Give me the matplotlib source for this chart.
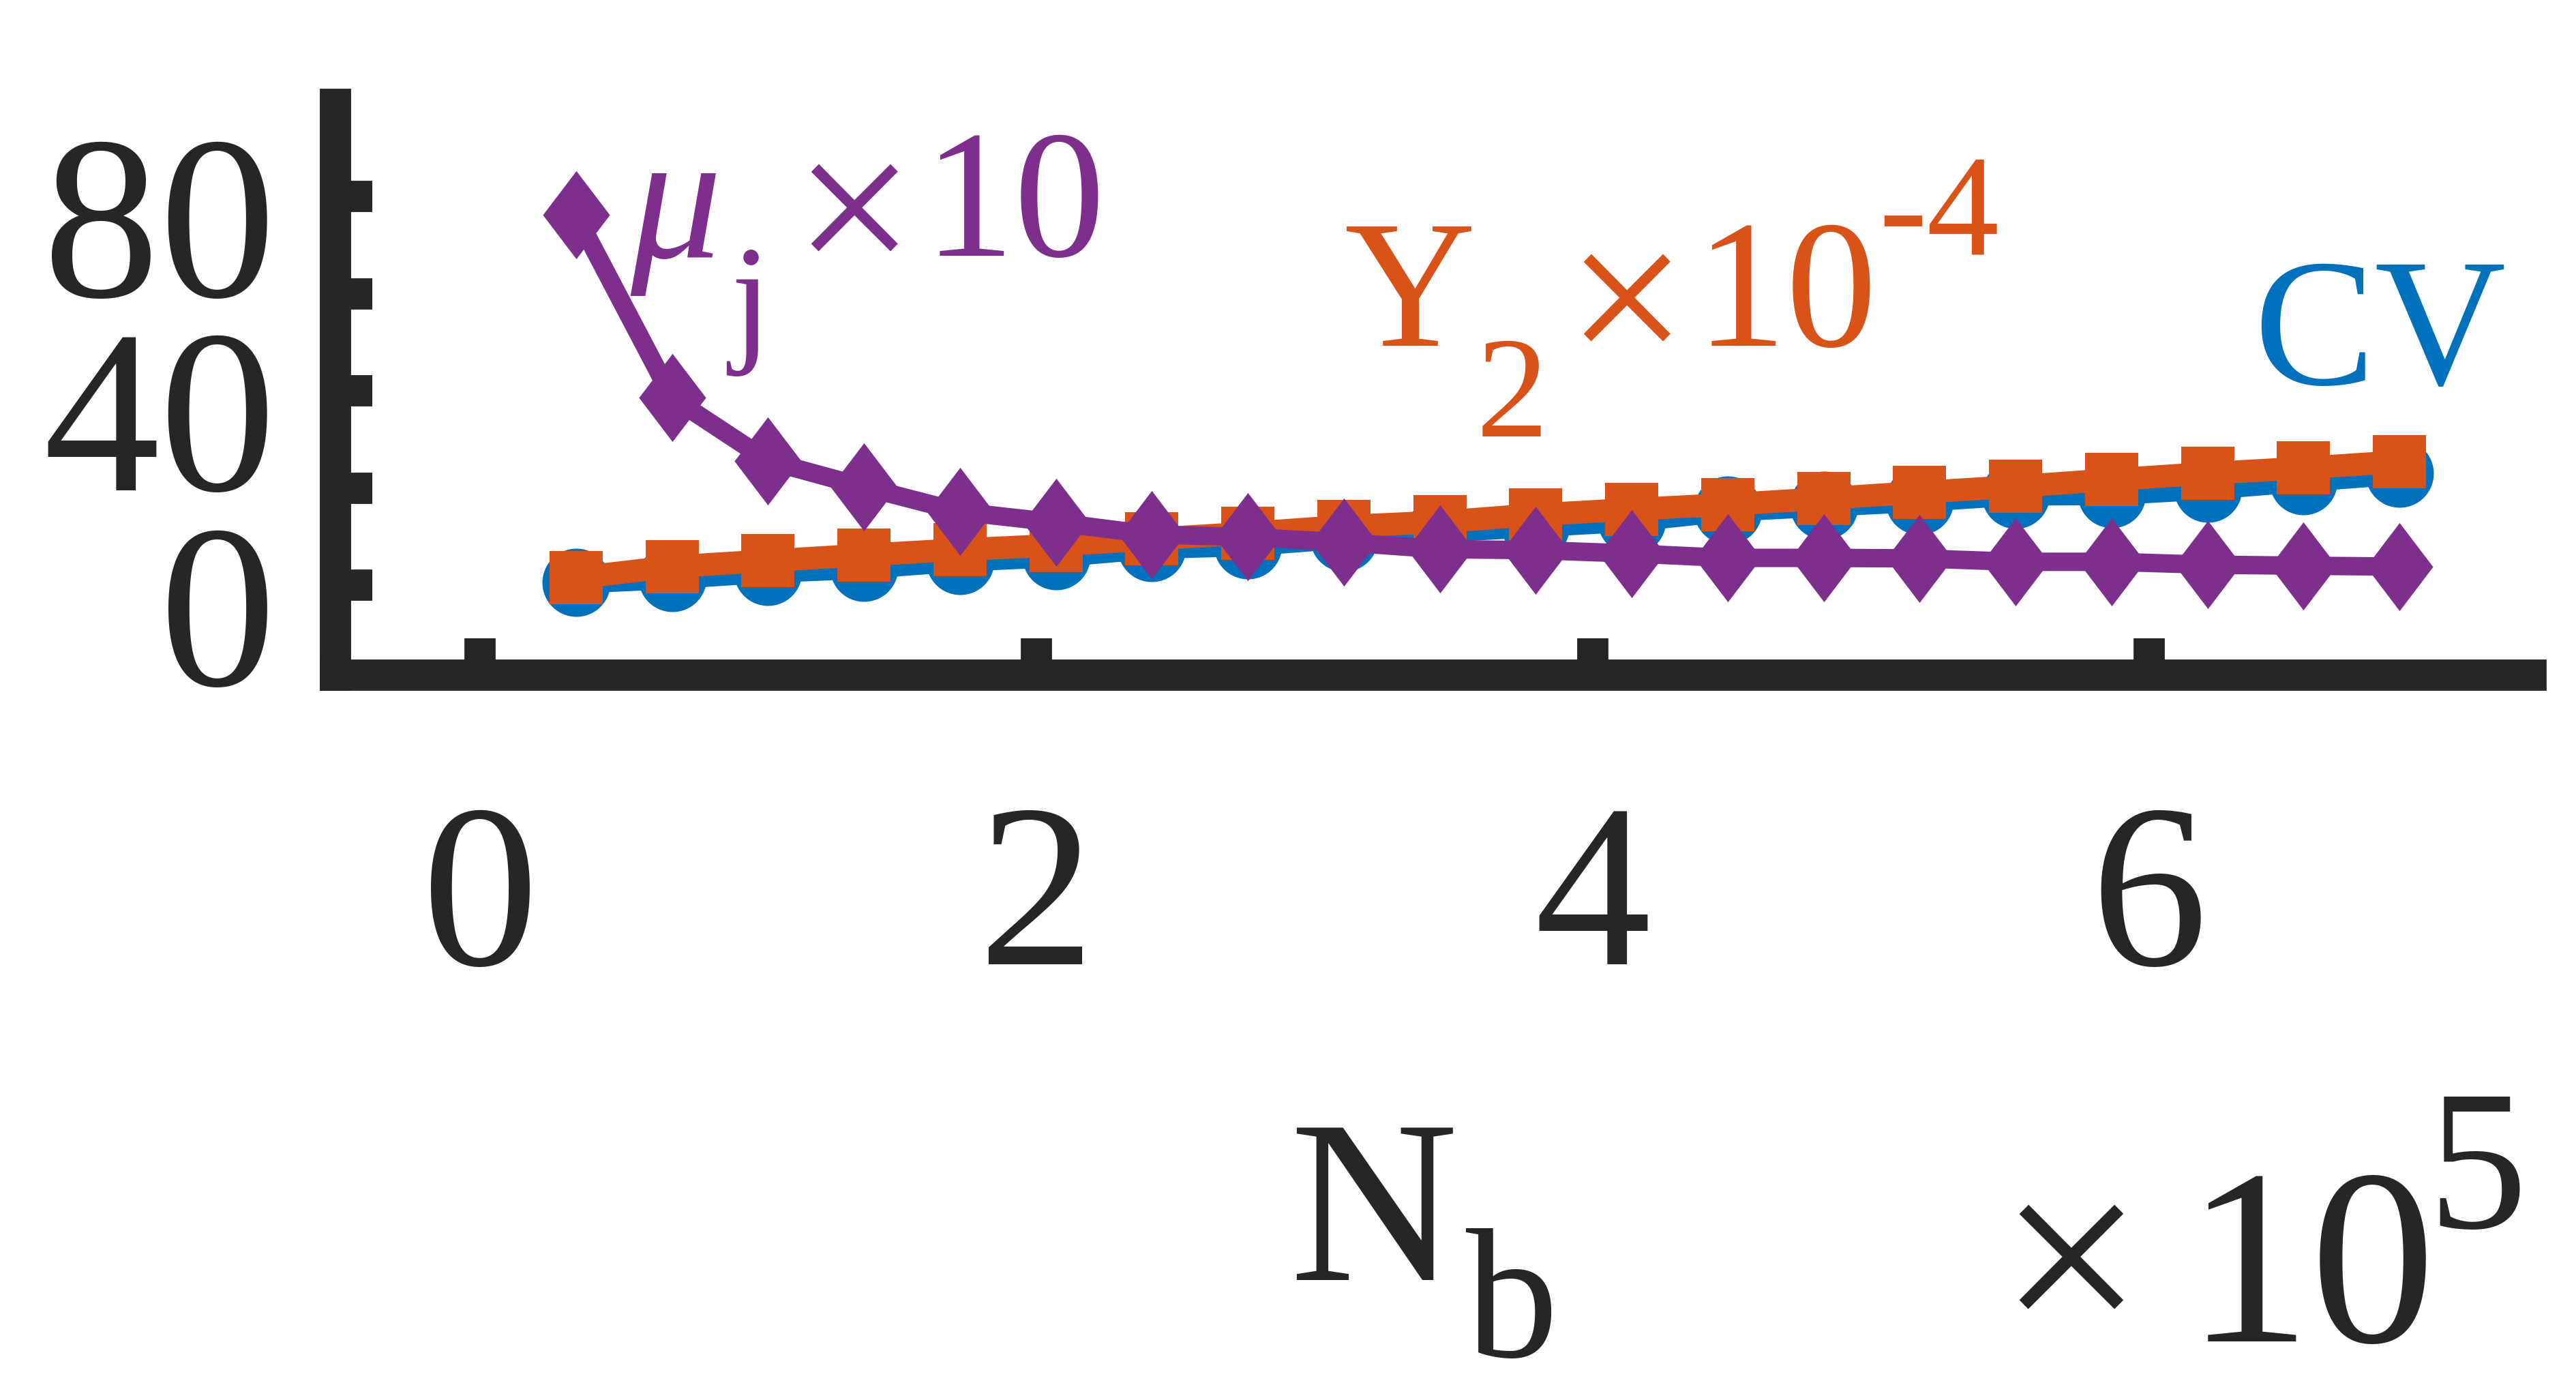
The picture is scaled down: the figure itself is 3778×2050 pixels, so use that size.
import numpy as np
import matplotlib
matplotlib.use("Agg")
import matplotlib.pyplot as plt
from matplotlib.path import Path
from matplotlib.transforms import ScaledTranslation

plt.rcParams['font.family'] = ['Liberation Serif', 'DejaVu Serif']

# N_b sample sizes and the three curves
nb = [34500, 69000, 103500, 138000, 172500, 207000, 241500, 276000, 310500, 345000,
      379500, 414000, 448500, 483000, 517500, 552000, 586500, 621000, 655500, 690000]
cv = [0.6, 1.5, 2.8, 3.6, 5.1, 6.0, 7.7, 8.3, 9.8, 11.1,
      12.2, 13.3, 15.4, 16.4, 17.4, 18.7, 18.8, 19.9, 21.5, 23.0]
y2 = [1.5, 3.8, 5.0, 6.2, 7.3, 8.2, 9.5, 10.7, 12.1, 13.0,
      14.5, 15.6, 16.6, 17.8, 19.1, 20.3, 21.7, 23.0, 24.1, 25.4]
mu = [76.2, 38.6, 25.6, 20.2, 15.1, 12.9, 10.4, 9.9, 8.8, 7.4,
      7.2, 6.5, 5.6, 5.6, 5.5, 4.8, 4.8, 4.2, 4.0, 3.8]

yticks = [0, 20, 40, 60, 80]
ytick_labels = ['0', '', '40', '', '80']
xticks = [0, 2, 4, 6]
xtick_labels = ['0', '2', '4', '6']

BLUE = '#0072BD'
ORANGE = '#D95319'
PURPLE = '#7E2F8E'
DARK = '#262626'

W, H, DPI = 3779, 2050, 300
fig = plt.figure(figsize=(W / DPI, H / DPI), dpi=DPI)

# axes box in pixels (left, right, top, bottom)
L, R, T, B = 492, 3712, 153, 990
ax = fig.add_axes([L / W, 1 - B / H, (R - L) / W, (B - T) / H])

x = np.array(nb) / 1e5
diamond = Path([(0, 1), (0.76, 0), (0, -1), (-0.76, 0), (0, 1)],
               [Path.MOVETO, Path.LINETO, Path.LINETO, Path.LINETO, Path.CLOSEPOLY])

ax.plot(x, cv, '-', color=BLUE, lw=8, marker='o', ms=24, mew=0)
ax.plot(x, y2, '-', color=ORANGE, lw=8, marker='s', ms=18.5, mew=0)
ax.plot(x, mu, '-', color=PURPLE, lw=6.5, marker=diamond, ms=31, mew=0)

# pixel -> data mapping measured on the reference
ax.set_xlim((L - 704) / 408, (R - 704) / 408)
ax.set_ylim((858 - B) / 7.125, (858 - T) / 7.125)

ax.set_xticks(xticks)
ax.set_xticklabels(xtick_labels)
ax.set_yticks(yticks)
ax.set_yticklabels(ytick_labels)

for s in ['top', 'right']:
    ax.spines[s].set_visible(False)
for s in ['left', 'bottom']:
    ax.spines[s].set_linewidth(11)
    ax.spines[s].set_color(DARK)
    ax.spines[s].set_capstyle('projecting')

ax.tick_params(axis='both', direction='in', length=13, width=11, color=DARK,
               labelcolor=DARK, labelsize=82)
ax.tick_params(axis='x', pad=45)
ax.tick_params(axis='y', pad=21)
for lab in ax.get_yticklabels():
    lab.set_transform(lab.get_transform() + ScaledTranslation(0, -28 / DPI, fig.dpi_scale_trans))


def put(s, px, py, size, color, **kw):
    fig.text(px / W, 1 - py / H, s, fontsize=size, color=color, ha='left',
             va='baseline', **kw)


# mu_j x 10
put('\u03bc', 924, 377, 64, PURPLE, style='italic')
put('j', 1071, 507, 51, PURPLE)
put('\u00d7', 1164, 408, 75, PURPLE)
put('10', 1355, 375, 64, PURPLE)

# Y_2 x 10^-4
put('Y', 1972, 507, 64, ORANGE)
put('2', 2165, 640, 51, ORANGE)
put('\u00d7', 2297, 540, 75, ORANGE)
put('10', 2487, 507, 64, ORANGE)
put('-4', 2755, 374, 51, ORANGE)

# CV
put('CV', 3305, 563, 64, BLUE)

# x label N_b and exponent
put('N', 1891, 1877, 82, DARK)
put('b', 2150, 1989, 65, DARK)
put('\u00d7', 2931, 1967, 90, DARK)
put('10', 3206, 1967, 88, DARK)
put('5', 3560, 1800, 70, DARK)

fig.savefig('out.png', dpi=DPI)
